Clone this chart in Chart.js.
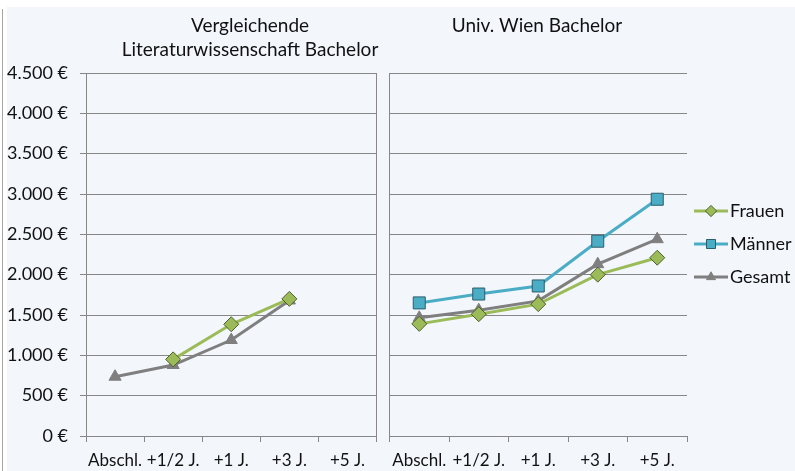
<!DOCTYPE html>
<html>
<head>
<meta charset="utf-8">
<script src="https://cdn.jsdelivr.net/npm/chart.js@4.4.1/dist/chart.umd.min.js"></script>
<style>
  html, body { margin: 0; padding: 0; background: #fff; }
  #wrap { position: relative; width: 795px; height: 471px; overflow: hidden; }
  #bg { position: absolute; left: 7px; top: 7px; right: 0; bottom: 0; background: #F3F7FC; }
  #edge { position: absolute; left: 2px; top: 9px; bottom: 0; width: 1px; background: #A6A6A6; }
  #left { position: absolute; left: 0; top: 0; }
  #right { position: absolute; left: 380px; top: 0; }
</style>
</head>
<body>
<div id="wrap">
  <div id="bg"></div>
  <div id="edge"></div>
  <canvas id="left" width="386" height="471"></canvas>
  <canvas id="right" width="415" height="471"></canvas>
</div>
<script>
// categories and values
const categories = ['Abschl.', '+1/2 J.', '+1 J.', '+3 J.', '+5 J.'];
const yTickValues = [0, 500, 1000, 1500, 2000, 2500, 3000, 3500, 4000, 4500];

const vlFrauen  = [null, 950, 1385, 1700, null];
const vlMaenner = [null, null, null, null, null];
const vlGesamt  = [735, 880, 1190, 1680, null];

const uwFrauen  = [1390, 1510, 1635, 2000, 2210];
const uwMaenner = [1650, 1760, 1860, 2415, 2935];
const uwGesamt  = [1465, 1560, 1675, 2130, 2440];

const seriesNames = ['Frauen', 'Männer', 'Gesamt'];

Chart.defaults.font.family = 'Lato';
Chart.defaults.font.size = 18;
Chart.defaults.color = '#111';

const gridColor = '#878787';

const styles = [
  { borderColor: '#9BBB59', pointBackgroundColor: '#9BBB59', pointBorderColor: '#4F5F2E', pointStyle: 'rectRot', pointRadius: 7.5 },
  { borderColor: '#4BACC6', pointBackgroundColor: '#4BACC6', pointBorderColor: '#2B5D6B', pointStyle: 'rect', pointRadius: 8.5 },
  { borderColor: '#7F7F7F', pointBackgroundColor: '#7F7F7F', pointBorderColor: '#7F7F7F', pointStyle: 'triangle', pointRadius: 7 }
];

function makeDatasets(values) {
  return values.map((v, i) => Object.assign({
    label: seriesNames[i],
    data: v,
    borderWidth: 3,
    pointBorderWidth: 1,
    pointHoverRadius: 8,
    tension: 0
  }, styles[i]));
}

function euro(v) {
  return String(v).replace(/\B(?=(\d{3})+(?!\d))/g, '.') + ' €';
}

// panel titles drawn as text above the plot
const panelTitle = {
  id: 'panelTitle',
  afterDraw(chart, args, opts) {
    const ctx = chart.ctx;
    ctx.save();
    ctx.font = '19px Lato';
    ctx.fillStyle = '#111';
    ctx.textAlign = 'center';
    ctx.textBaseline = 'middle';
    opts.lines.forEach((t, i) => ctx.fillText(t, opts.x, opts.y + i * opts.lineGap));
    ctx.restore();
  }
};

// legend with line + marker on the right
const sideLegend = {
  id: 'sideLegend',
  afterDraw(chart, args, opts) {
    const ctx = chart.ctx;
    chart.data.datasets.forEach((ds, i) => {
      const y = opts.y + i * opts.gap;
      ctx.save();
      ctx.strokeStyle = ds.borderColor;
      ctx.lineWidth = 3;
      ctx.beginPath();
      ctx.moveTo(opts.x, y);
      ctx.lineTo(opts.x + opts.lineLen, y);
      ctx.stroke();
      ctx.fillStyle = ds.pointBackgroundColor;
      ctx.strokeStyle = ds.pointBorderColor;
      ctx.lineWidth = 1;
      Chart.helpers.drawPoint(ctx, { pointStyle: ds.pointStyle, radius: ds.pointRadius * 0.75, rotation: 0, borderWidth: 1 }, opts.x + opts.lineLen / 2, y);
      ctx.font = '18px Lato';
      ctx.fillStyle = '#111';
      ctx.textAlign = 'left';
      ctx.textBaseline = 'middle';
      ctx.fillText(ds.label, opts.x + opts.lineLen + 2, y);
      ctx.restore();
    });
  }
};

function xScale() {
  return {
    type: 'category',
    offset: true,
    grid: { display: true, drawOnChartArea: false, offset: true, tickLength: 6, color: gridColor },
    border: { color: gridColor },
    ticks: { padding: 8, maxRotation: 0, autoSkip: false, font: { size: 17 } },
    afterFit(s) { s.height = 35; }
  };
}

function yScale(showLabels, width) {
  return {
    min: 0,
    max: 4500,
    afterBuildTicks(s) { s.ticks = yTickValues.map(v => ({ value: v })); },
    grid: { color: gridColor, tickLength: showLabels ? 6 : 0, drawTicks: showLabels },
    border: { color: gridColor },
    ticks: { display: showLabels, padding: 12, callback: v => euro(v) },
    afterFit(s) { s.width = width; }
  };
}

new Chart(document.getElementById('left'), {
  type: 'line',
  data: { labels: categories, datasets: makeDatasets([vlFrauen, vlMaenner, vlGesamt]) },
  plugins: [panelTitle],
  options: {
    responsive: false,
    animation: false,
    layout: { padding: { top: 73, right: 5, bottom: 0, left: 0 } },
    scales: {
      x: xScale(),
      y: yScale(true, 86),
      yEdge: {
        position: 'right',
        grid: { drawOnChartArea: false, drawTicks: false },
        border: { color: gridColor },
        ticks: { display: false },
        afterFit(s) { s.width = 0; }
      }
    },
    plugins: {
      legend: { display: false },
      tooltip: { enabled: false },
      panelTitle: { lines: ['Vergleichende', 'Literaturwissenschaft Bachelor'], x: 250, y: 26, lineGap: 24 }
    }
  }
});

new Chart(document.getElementById('right'), {
  type: 'line',
  data: { labels: categories, datasets: makeDatasets([uwFrauen, uwMaenner, uwGesamt]) },
  plugins: [panelTitle, sideLegend],
  options: {
    responsive: false,
    animation: false,
    layout: { padding: { top: 73, right: 108, bottom: 0, left: 0 } },
    scales: {
      x: xScale(),
      y: yScale(false, 8)
    },
    plugins: {
      legend: { display: false },
      tooltip: { enabled: false },
      panelTitle: { lines: ['Univ. Wien Bachelor'], x: 157, y: 26, lineGap: 24 },
      sideLegend: { x: 314, y: 211, gap: 33, lineLen: 34 }
    }
  }
});
</script>
</body>
</html>
